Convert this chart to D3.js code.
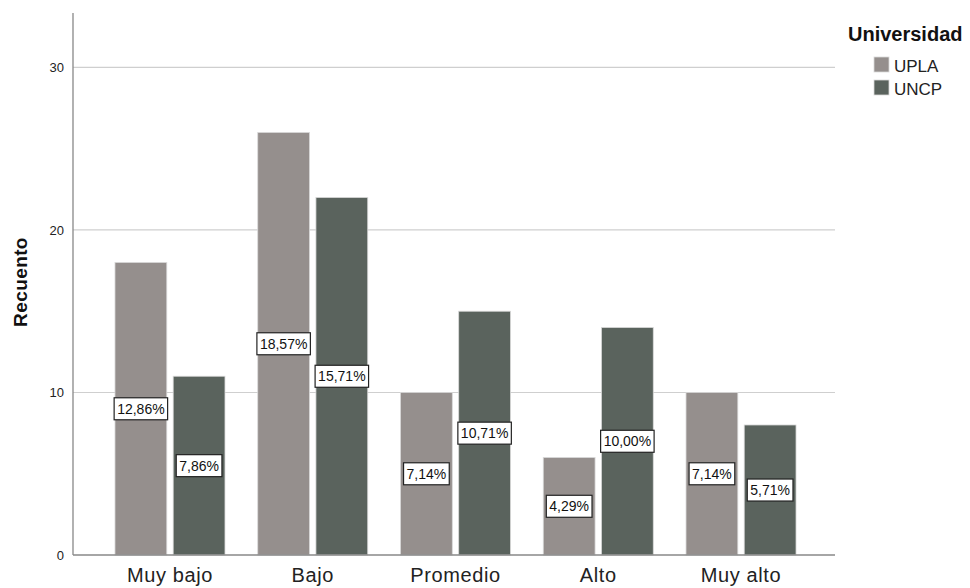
<!DOCTYPE html>
<html>
<head>
<meta charset="utf-8">
<script src="https://cdn.jsdelivr.net/npm/d3@7"></script>
<style>
  body { margin: 0; background: #fff; }
  text { font-family: Arial, "Liberation Sans", sans-serif; }
</style>
</head>
<body>
<svg width="970" height="588"></svg>
<script>
const categories = ["Muy bajo", "Bajo", "Promedio", "Alto", "Muy alto"];
const groups = ["UPLA", "UNCP"];
const uplaValues = [18, 26, 10, 6, 10];
const uncpValues = [11, 22, 15, 14, 8];
const uplaLabels = ["12,86%", "18,57%", "7,14%", "4,29%", "7,14%"];
const uncpLabels = ["7,86%", "15,71%", "10,71%", "10,00%", "5,71%"];
const yTicks = [0, 10, 20, 30];

const colors = { UPLA: "#958f8d", UNCP: "#5a635d" };

main();

function main() {
  const canvas = d3.select("svg");

  const left = 73;
  const right = 835;
  const top = 13;
  const bottom = 555;

  const rows = [];
  categories.forEach((c, i) => {
    rows.push({ cat: c, group: "UPLA", value: uplaValues[i], label: uplaLabels[i] });
    rows.push({ cat: c, group: "UNCP", value: uncpValues[i], label: uncpLabels[i] });
  });

  const xScale = d3.scaleBand().domain(categories).range([98.6, 812.4]).padding(0);
  const xInner = d3.scaleBand().domain(groups).range([-55, 55]).paddingInner(0.11);

  const yScale = d3.scaleLinear().domain([0, 33.35]).range([bottom, top]);

  // gridlines
  canvas
    .append("g")
    .selectAll("line")
    .data(yTicks.filter((t) => t > 0))
    .join("line")
    .attr("x1", left)
    .attr("x2", right)
    .attr("y1", (d) => yScale(d))
    .attr("y2", (d) => yScale(d))
    .attr("stroke", "#cfcfcf")
    .attr("stroke-width", 1.2);

  // bars
  canvas
    .append("g")
    .selectAll("rect")
    .data(rows)
    .join("rect")
    .attr("x", (d) => xScale(d.cat) + xScale.bandwidth() / 2 + xInner(d.group))
    .attr("width", xInner.bandwidth())
    .attr("y", (d) => yScale(d.value))
    .attr("height", (d) => yScale(0) - yScale(d.value))
    .attr("fill", (d) => colors[d.group])
    .attr("stroke", "#d9d9d9")
    .attr("stroke-width", 0.8);

  // axes
  const yAxis = d3.axisLeft(yScale).tickValues(yTicks).tickSize(0).tickPadding(9);
  const yg = canvas.append("g").attr("transform", `translate(${left}, 0)`).call(yAxis);
  yg.select(".domain").remove();
  yg.selectAll("text").attr("font-size", 13).attr("fill", "#222");

  canvas
    .append("line")
    .attr("x1", left)
    .attr("x2", left)
    .attr("y1", top)
    .attr("y2", bottom)
    .attr("stroke", "#888")
    .attr("stroke-width", 1.3);

  const xAxis = d3.axisBottom(xScale).tickSize(0).tickPadding(13);
  const xg = canvas.append("g").attr("transform", `translate(0, ${bottom})`).call(xAxis);
  xg.select(".domain").remove();
  xg.selectAll("text")
    .attr("font-size", 20)
    .attr("letter-spacing", "0.6px")
    .attr("fill", "#222");

  canvas
    .append("line")
    .attr("x1", left)
    .attr("x2", right)
    .attr("y1", bottom)
    .attr("y2", bottom)
    .attr("stroke", "#888")
    .attr("stroke-width", 1.3);

  // value labels
  const labels = canvas
    .append("g")
    .selectAll("g")
    .data(rows)
    .join("g")
    .attr("transform", (d) => {
      const cx = xScale(d.cat) + xScale.bandwidth() / 2 + xInner(d.group) + xInner.bandwidth() / 2;
      const cy = yScale(d.value / 2);
      return `translate(${cx}, ${cy})`;
    });

  labels
    .append("text")
    .text((d) => d.label)
    .attr("text-anchor", "middle")
    .attr("dy", "0.36em")
    .attr("font-size", 14)
    .attr("fill", "#111");

  labels.each(function () {
    const g = d3.select(this);
    const bb = g.select("text").node().getBBox();
    g.insert("rect", "text")
      .attr("x", bb.x - 3)
      .attr("y", bb.y - 3)
      .attr("width", bb.width + 6)
      .attr("height", bb.height + 6)
      .attr("fill", "#fff")
      .attr("stroke", "#222")
      .attr("stroke-width", 1.2);
  });

  // y label
  canvas
    .append("text")
    .text("Recuento")
    .attr("x", 0)
    .attr("y", 0)
    .attr("text-anchor", "middle")
    .attr("font-size", 19)
    .attr("font-weight", "bold")
    .attr("letter-spacing", "0.4px")
    .attr("fill", "#111")
    .attr("transform", "translate(27, 282) rotate(-90)");

  // legend
  const legend = canvas.append("g");
  legend
    .append("text")
    .text("Universidad")
    .attr("x", 848)
    .attr("y", 41)
    .attr("font-size", 20)
    .attr("font-weight", "bold")
    .attr("fill", "#111");

  const items = legend
    .selectAll("g")
    .data(groups)
    .join("g")
    .attr("transform", (d, i) => `translate(874, ${57 + i * 23})`);

  items
    .append("rect")
    .attr("width", 15)
    .attr("height", 15)
    .attr("fill", (d) => colors[d])
    .attr("stroke", "#d9d9d9")
    .attr("stroke-width", 0.8);

  items
    .append("text")
    .text((d) => d)
    .attr("x", 20)
    .attr("y", 15)
    .attr("font-size", 17)
    .attr("fill", "#222");
}
</script>
</body>
</html>
